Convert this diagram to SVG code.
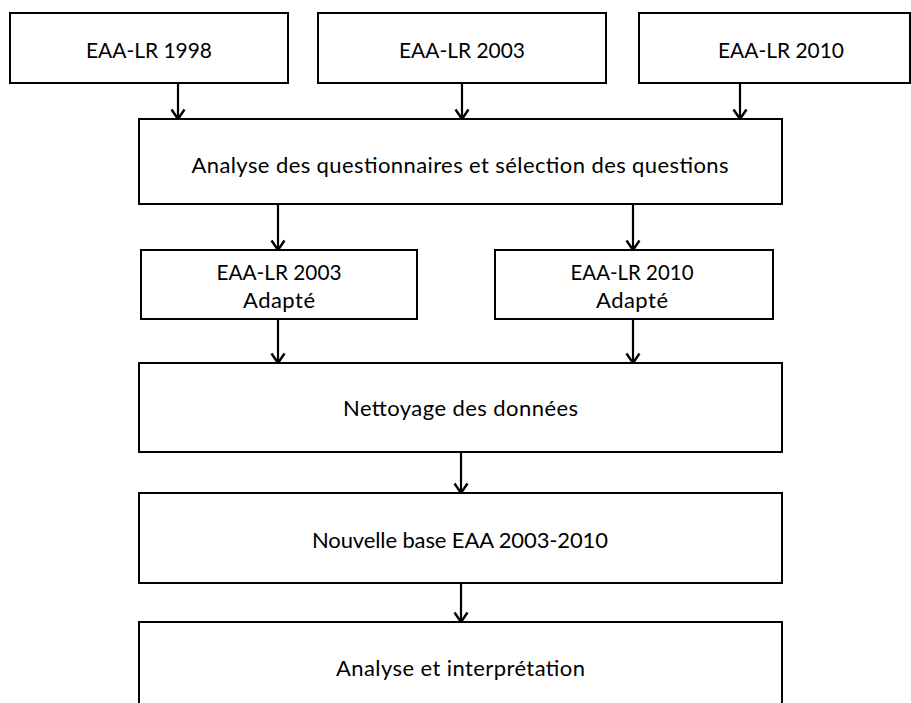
<svg xmlns="http://www.w3.org/2000/svg" width="911" height="703" viewBox="0 0 911 703">
<defs>
<style>
.box{fill:#ffffff;stroke:#000000;stroke-width:2}
.lbl{font-family:Lato,"Open Sans","Liberation Sans",sans-serif;font-size:22px;fill:#000000;text-anchor:middle}
.con{stroke:#000000;stroke-width:2.2;fill:none}
</style>
<marker id="arr" markerUnits="userSpaceOnUse" markerWidth="16" markerHeight="16" viewBox="0 0 16 16" refX="14" refY="8" orient="auto">
<path d="M4.5,1.5 L14,8 L4.5,14.5" fill="none" stroke="#000000" stroke-width="2.4"/>
</marker>
</defs>
<rect width="911" height="703" fill="#ffffff"/>
<g id="connectors">
<line class="con" x1="178" y1="83" x2="178" y2="119" marker-end="url(#arr)"/>
<line class="con" x1="462" y1="83" x2="462" y2="119" marker-end="url(#arr)"/>
<line class="con" x1="740" y1="83" x2="740" y2="119" marker-end="url(#arr)"/>
<line class="con" x1="278" y1="204" x2="278" y2="250" marker-end="url(#arr)"/>
<line class="con" x1="633" y1="204" x2="633" y2="250" marker-end="url(#arr)"/>
<line class="con" x1="278" y1="319" x2="278" y2="363" marker-end="url(#arr)"/>
<line class="con" x1="633" y1="319" x2="633" y2="363" marker-end="url(#arr)"/>
<line class="con" x1="461" y1="452" x2="461" y2="493" marker-end="url(#arr)"/>
<line class="con" x1="461" y1="583" x2="461" y2="622" marker-end="url(#arr)"/>
</g>
<g id="n1998">
<rect class="box" x="10" y="13" width="278" height="70"/>
<text class="lbl" x="149" y="58" textLength="126" lengthAdjust="spacingAndGlyphs">EAA-LR 1998</text>
</g>
<g id="n2003">
<rect class="box" x="318" y="13" width="288" height="70"/>
<text class="lbl" x="462" y="58" textLength="126" lengthAdjust="spacingAndGlyphs">EAA-LR 2003</text>
</g>
<g id="n2010">
<rect class="box" x="639" y="13" width="271" height="70"/>
<text class="lbl" x="781" y="58" textLength="126" lengthAdjust="spacingAndGlyphs">EAA-LR 2010</text>
</g>
<g id="analyse">
<rect class="box" x="139" y="119" width="643" height="85"/>
<text class="lbl" x="460" y="173" textLength="537">Analyse des questionnaires et sélection des questions</text>
</g>
<g id="a2003">
<rect class="box" x="141" y="250" width="276" height="69"/>
<text class="lbl" x="279" y="280" textLength="125" lengthAdjust="spacingAndGlyphs">EAA-LR 2003</text>
<text class="lbl" x="279" y="308" textLength="72">Adapté</text>
</g>
<g id="a2010">
<rect class="box" x="495" y="250" width="278" height="69"/>
<text class="lbl" x="632" y="280" textLength="123" lengthAdjust="spacingAndGlyphs">EAA-LR 2010</text>
<text class="lbl" x="632" y="308" textLength="72">Adapté</text>
</g>
<g id="nettoyage">
<rect class="box" x="139" y="363" width="643" height="89"/>
<text class="lbl" x="460.5" y="416" textLength="235">Nettoyage des données</text>
</g>
<g id="nouvelle">
<rect class="box" x="139" y="493" width="643" height="90"/>
<text class="lbl" x="460" y="548" textLength="296">Nouvelle base EAA 2003-2010</text>
</g>
<g id="interpretation">
<rect class="box" x="139" y="622" width="643" height="100"/>
<text class="lbl" x="460.5" y="676" textLength="249">Analyse et interprétation</text>
</g>
</svg>
